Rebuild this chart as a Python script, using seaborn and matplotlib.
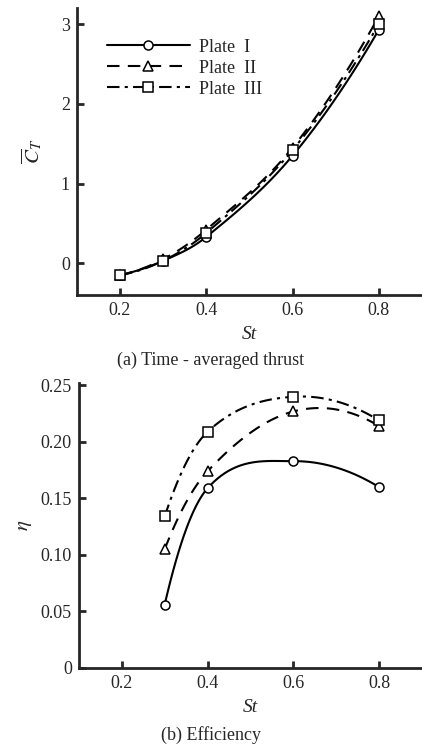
import numpy as np
import matplotlib
matplotlib.use("Agg")
import matplotlib.pyplot as plt
import seaborn as sns

# Values
st_thrust = [0.2, 0.3, 0.4, 0.6, 0.8]
ct_plate1 = [-0.15, 0.03, 0.33, 1.35, 2.93]
ct_plate2 = [-0.15, 0.05, 0.42, 1.45, 3.10]
ct_plate3 = [-0.15, 0.03, 0.38, 1.42, 3.00]

st_eff = [0.3, 0.4, 0.6, 0.8]
eta_plate1 = [0.056, 0.159, 0.183, 0.160]
eta_plate2 = [0.105, 0.174, 0.227, 0.214]
eta_plate3 = [0.134, 0.209, 0.240, 0.219]

labels = ["Plate  I", "Plate  II", "Plate  III"]
x_ticks = [0.2, 0.4, 0.6, 0.8]
ct_ticks = [0, 1, 2, 3]
eta_ticks = [0, 0.05, 0.10, 0.15, 0.20, 0.25]
eta_ticklabels = ["0", "0.05", "0.10", "0.15", "0.20", "0.25"]

sns.set_style("ticks")
plt.rcParams["font.family"] = ["Liberation Serif", "DejaVu Serif"]
plt.rcParams["mathtext.fontset"] = "stix"


def smooth(xs, ys, n=25):
    # Catmull-Rom style hermite curve through the points (drawing only)
    xs = np.asarray(xs, float)
    ys = np.asarray(ys, float)
    k = len(xs)
    d = np.diff(ys) / np.diff(xs)
    m = np.zeros(k)
    for i in range(1, k - 1):
        m[i] = (ys[i + 1] - ys[i - 1]) / (xs[i + 1] - xs[i - 1])
    m[0] = 2 * d[0] - m[1]
    m[-1] = 2 * d[-1] - m[-2]
    out_x, out_y, idx = [], [], []
    for i in range(k - 1):
        h = xs[i + 1] - xs[i]
        t = np.linspace(0, 1, n, endpoint=(i == k - 2))
        h00 = 2 * t ** 3 - 3 * t ** 2 + 1
        h10 = t ** 3 - 2 * t ** 2 + t
        h01 = -2 * t ** 3 + 3 * t ** 2
        h11 = t ** 3 - t ** 2
        y = h00 * ys[i] + h10 * h * m[i] + h01 * ys[i + 1] + h11 * h * m[i + 1]
        idx.append(len(out_x))
        out_x.extend(xs[i] + t * h)
        out_y.extend(y)
    idx.append(len(out_x) - 1)
    return np.array(out_x), np.array(out_y), idx


styles = [
    dict(linestyle="-", marker="o"),
    dict(linestyle=(0, (6, 4)), marker="^"),
    dict(linestyle=(0, (6, 2.5, 1.5, 2.5)), marker="s"),
]

fig = plt.figure(figsize=(4.22, 7.47), dpi=100)
ax1 = fig.add_axes([0.182, 0.605, 0.818, 0.384])
ax2 = fig.add_axes([0.187, 0.106, 0.813, 0.381])


def draw(ax, xs, series):
    for ys, st, lab in zip(series, styles, labels):
        sx, sy, idx = smooth(xs, ys)
        ax.plot(sx, sy, color="black", lw=1.5, markevery=idx,
                markersize=6.5, markerfacecolor="white", markeredgewidth=1.1,
                label=lab, **st)


draw(ax1, st_thrust, [ct_plate1, ct_plate2, ct_plate3])
draw(ax2, st_eff, [eta_plate1, eta_plate2, eta_plate3])

for ax in (ax1, ax2):
    sns.despine(ax=ax)
    for s in ("left", "bottom"):
        ax.spines[s].set_linewidth(2.0)
    ax.set_xlim(0.1, 0.9)
    ax.set_xticks(x_ticks)
    ax.set_xticklabels([f"{v:.1f}" for v in x_ticks])
    ax.tick_params(direction="in", length=5, width=2, labelsize=13, pad=5)
    ax.set_xlabel("St", fontsize=14, fontstyle="italic", labelpad=5)

ax1.set_ylim(-0.4, 3.2)
ax1.set_yticks(ct_ticks)
ax1.set_yticklabels([str(v) for v in ct_ticks])
ax1.set_ylabel(r"$\overline{C}_T$", fontsize=15, labelpad=12, rotation=90)

ax2.set_ylim(0, 0.252)
ax2.set_yticks(eta_ticks)
ax2.set_yticklabels(eta_ticklabels)
ax2.set_ylabel(r"$\eta$", fontsize=15, labelpad=5)

leg = ax1.legend(loc="upper left", bbox_to_anchor=(0.04, 0.95), frameon=False,
                 fontsize=13, handlelength=4.6, handletextpad=0.5,
                 labelspacing=0.22)

fig.text(0.5, 0.518, "(a) Time - averaged thrust", ha="center", va="center", fontsize=13)
fig.text(0.5, 0.016, "(b) Efficiency", ha="center", va="center", fontsize=13)

fig.savefig("out.png", dpi=100, facecolor="white")
